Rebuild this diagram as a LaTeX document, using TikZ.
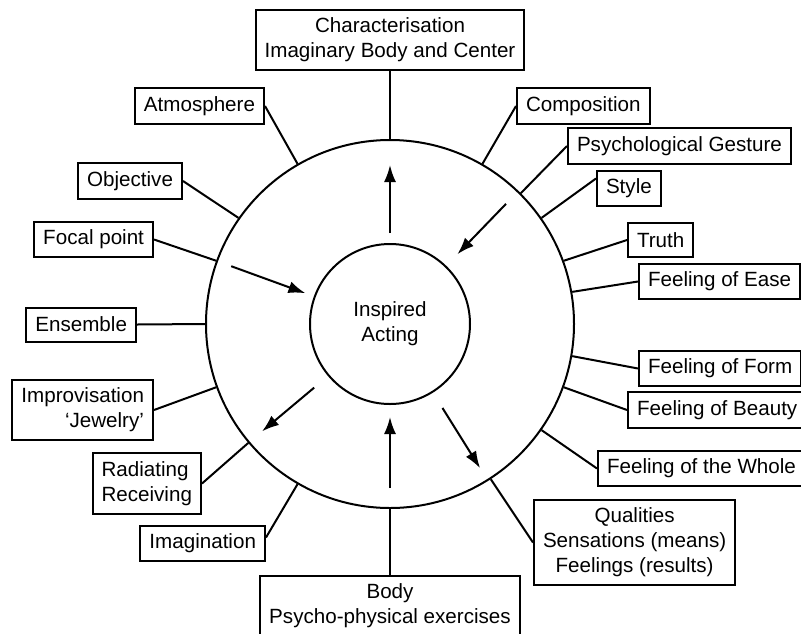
\documentclass[tikz,border=0pt]{standalone}
\usepackage{fontspec}
\setmainfont{Liberation Sans}
\usepackage{tikz}
\usetikzlibrary{arrows.meta,positioning,calc}
\tikzset{
  topic/.style={draw, line width=1pt, align=center, inner xsep=4.5pt, inner ysep=4pt, minimum height=17pt, font=\fontsize{10.3pt}{12.5pt}\selectfont},
  ring/.style={draw, circle, line width=1pt, minimum size=184pt, inner sep=0pt},
  hub/.style={draw, circle, line width=1pt, minimum size=80pt, inner sep=0pt, align=center, font=\fontsize{10.3pt}{12.5pt}\selectfont},
  link/.style={line width=1pt},
  arr/.style={-{Latex[length=8.5pt,width=6pt]}, line width=1pt}
}

\begin{document}
\begin{tikzpicture}[x=0.5pt, y=0.5pt]
\useasboundingbox (-390,-309) rectangle (411,324);

\node[ring] (ring) at (0,0) {};
\node[hub] (hub) at (0,0) {Inspired\\Acting};

\node[topic, above=34pt of ring] (char) {Characterisation\\Imaginary Body and Center};
\node[topic, below=33pt of ring] (body) {Body\\Psycho-physical exercises};

% left side
\node[topic, anchor=east] (atm) at (-125,218) {Atmosphere};
\node[topic, anchor=east] (obj) at (-207,143) {Objective};
\node[topic, anchor=east] (foc) at (-236,84.5) {Focal point};
\node[topic, anchor=east] (ens) at (-253,-0.5) {Ensemble};
\node[topic, anchor=east, align=right] (imp) at (-236,-86) {Improvisation\\`Jewelry'};
\node[topic, anchor=east, align=left] (rad) at (-188,-159.5) {Radiating\\Receiving};
\node[topic, anchor=east] (imag) at (-124,-219.5) {Imagination};

% right side
\node[topic, anchor=west] (comp) at (126,218) {Composition};
\node[topic, anchor=west] (psy) at (177,178) {Psychological Gesture};
\node[topic, anchor=west] (sty) at (206,135.5) {Style};
\node[topic, anchor=west] (truth) at (237,84) {Truth};
\node[topic, anchor=west] (ease) at (248,42.5) {Feeling of Ease};
\node[topic, anchor=west] (form) at (248,-44.5) {Feeling of Form};
\node[topic, anchor=west] (beauty) at (237,-86) {Feeling of Beauty};
\node[topic, anchor=west] (whole) at (207,-144.5) {Feeling of the Whole};
\node[topic, anchor=west] (qual) at (143,-218.5) {Qualities\\Sensations (means)\\Feelings (results)};

\draw[link] (ring.90) -- (char.south);
\draw[link] (ring.120) -- (atm.east);
\draw[link] (ring.145) -- (obj.east);
\draw[link] (ring.160) -- (foc.east);
\draw[link] (ring.180) -- (ens.east);
\draw[link] (ring.200) -- (imp.east);
\draw[link] (ring.220) -- (rad.east);
\draw[link] (ring.240) -- ([yshift=3pt]imag.east);
\draw[link] (ring.270) -- (body.north);
\draw[link] (ring.303) -- (qual.west);
\draw[link] (ring.325) -- (whole.west);
\draw[link] (ring.340) -- (beauty.west);
\draw[link] (ring.350) -- (form.west);
\draw[link] (ring.10) -- (ease.west);
\draw[link] (ring.20) -- (truth.west);
\draw[link] (ring.35) -- ([yshift=5pt]sty.west);
\draw[link] (ring.45) -- (psy.west);
\draw[link] (ring.60) -- (comp.west);

\draw[arr] ($(hub)+(90:91)$) -- ($(hub)+(90:159)$);
\draw[arr] ($(hub)+(160:169)$) -- ($(hub)+(160:90)$);
\draw[arr] ($(hub)+(46:167)$) -- ($(hub)+(46:97)$);
\draw[arr] ($(hub)+(220:99)$) -- ($(hub)+(220:167)$);
\draw[arr] ($(hub)+(270:164)$) -- ($(hub)+(270:93)$);
\draw[arr] ($(hub)+(302:99)$) -- ($(hub)+(302:170)$);
\end{tikzpicture}
\end{document}
